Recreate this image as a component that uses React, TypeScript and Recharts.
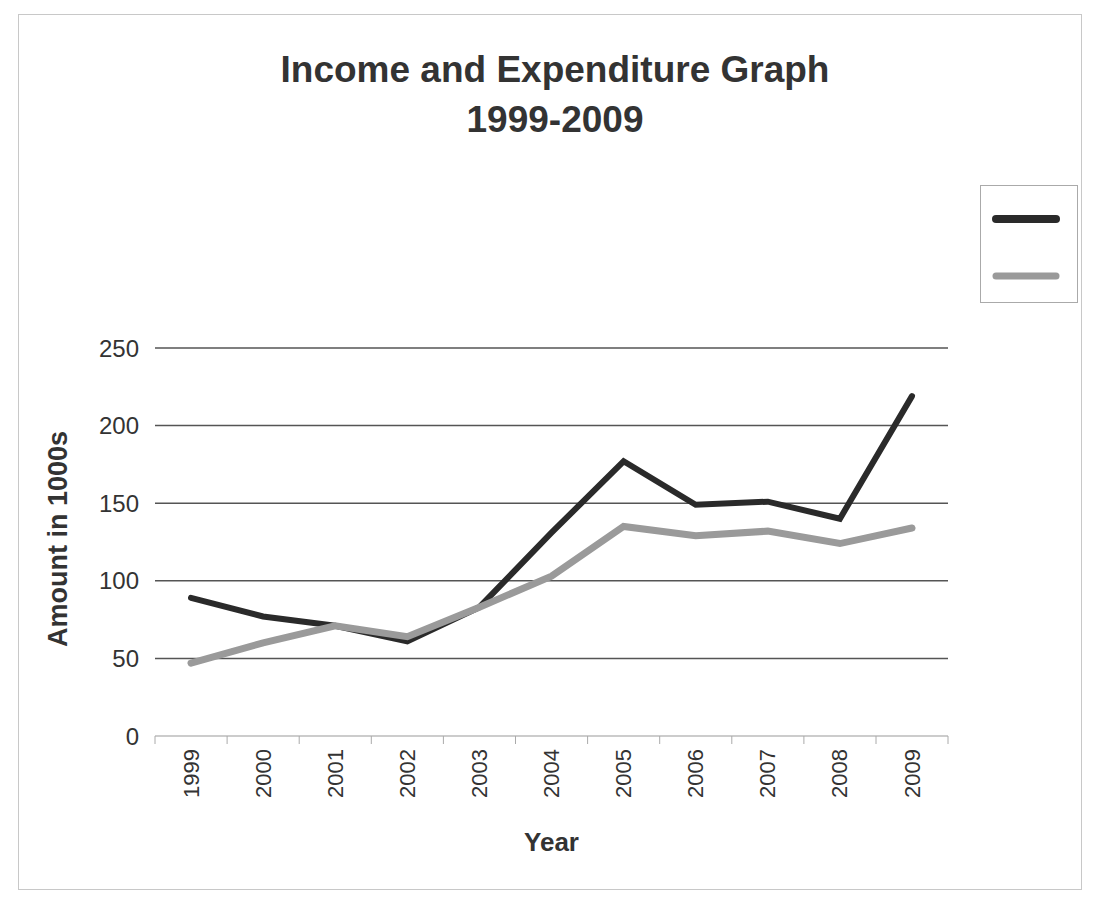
import React from 'react';
import { LineChart, Line, XAxis, YAxis, CartesianGrid } from 'recharts';

const years = ['1999', '2000', '2001', '2002', '2003', '2004', '2005', '2006', '2007', '2008', '2009'];
const income = [89, 77, 71, 61, 83, 131, 177, 149, 151, 140, 219];
const expenditure = [47, 60, 71, 64, 83, 103, 135, 129, 132, 124, 134];
const yTicks = [0, 50, 100, 150, 200, 250];

const data = years.map((year, i) => ({ year, income: income[i], expenditure: expenditure[i] }));

const FONT = '"Liberation Sans", Arial, sans-serif';
const HALF_BAND = 36;

function YearTick(props: any) {
  const { x, y, payload, index } = props;
  const last = index === years.length - 1;
  return (
    <g>
      <line x1={x - HALF_BAND} y1={y} x2={x - HALF_BAND} y2={y + 8} stroke="#aaa" strokeWidth={1} />
      {last && <line x1={x + HALF_BAND} y1={y} x2={x + HALF_BAND} y2={y + 8} stroke="#aaa" strokeWidth={1} />}
      <text
        x={x}
        y={y + 13}
        transform={`rotate(-90, ${x}, ${y + 13})`}
        textAnchor="end"
        dominantBaseline="central"
        fontSize={22}
        fontFamily={FONT}
        fill="#333"
      >
        {payload.value}
      </text>
    </g>
  );
}

// legend in the scan has line swatches only, no text
function LegendBox() {
  return (
    <div style={{ position: 'absolute', left: 980, top: 185, width: 96, height: 116, border: '1px solid #aaa', background: '#fff' }}>
      <svg width={96} height={116}>
        <line x1={15} y1={33} x2={75} y2={33} stroke="#2a2a2a" strokeWidth={8} strokeLinecap="round" />
        <line x1={15} y1={90} x2={75} y2={90} stroke="#9a9a9a" strokeWidth={7} strokeLinecap="round" />
      </svg>
    </div>
  );
}

export default function App() {
  return (
    <div style={{ position: 'absolute', left: 0, top: 0, width: 1093, height: 899, background: '#fff', fontFamily: FONT }}>
      <div style={{ position: 'absolute', left: 18, top: 14, width: 1062, height: 874, border: '1px solid #c8c8c8' }} />
      <div
        style={{
          position: 'absolute',
          left: 0,
          top: 45,
          width: 1110,
          textAlign: 'center',
          fontSize: 37,
          fontWeight: 'bold',
          lineHeight: '50px',
          color: '#333',
        }}
      >
        <div>Income and Expenditure Graph</div>
        <div>1999-2009</div>
      </div>
      <LegendBox />
      <div style={{ position: 'absolute', left: 0, top: 0 }}>
        <LineChart width={1093} height={899} data={data} margin={{ top: 348, right: 145, bottom: 0, left: 0 }}>
          <CartesianGrid vertical={false} horizontalValues={yTicks.filter((v) => v > 0)} stroke="#555" strokeWidth={1.5} />
          <XAxis
            dataKey="year"
            height={163}
            padding={{ left: HALF_BAND, right: HALF_BAND }}
            tickLine={false}
            tickSize={0}
            tickMargin={0}
            axisLine={{ stroke: '#999' }}
            tick={<YearTick />}
            interval={0}
            label={{ value: 'Year', position: 'insideBottom', offset: 48, style: { fontSize: 26, fontWeight: 'bold', fill: '#333', fontFamily: FONT } }}
          />
          <YAxis
            width={155}
            domain={[0, 250]}
            ticks={yTicks}
            tickLine={false}
            axisLine={false}
            tickMargin={10}
            tick={{ fontSize: 24, fill: '#333', fontFamily: FONT }}
            label={{
              value: 'Amount in 1000s',
              angle: -90,
              position: 'insideLeft',
              offset: 57,
              dy: -3,
              style: { textAnchor: 'middle', fontSize: 27, fontWeight: 'bold', fill: '#333', fontFamily: FONT },
            }}
          />
          <Line
            type="linear"
            dataKey="income"
            stroke="#2a2a2a"
            strokeWidth={6}
            strokeLinecap="round"
            dot={false}
            activeDot={false}
            isAnimationActive={false}
          />
          <Line
            type="linear"
            dataKey="expenditure"
            stroke="#9a9a9a"
            strokeWidth={7}
            strokeLinecap="round"
            dot={false}
            activeDot={false}
            isAnimationActive={false}
          />
        </LineChart>
      </div>
    </div>
  );
}
